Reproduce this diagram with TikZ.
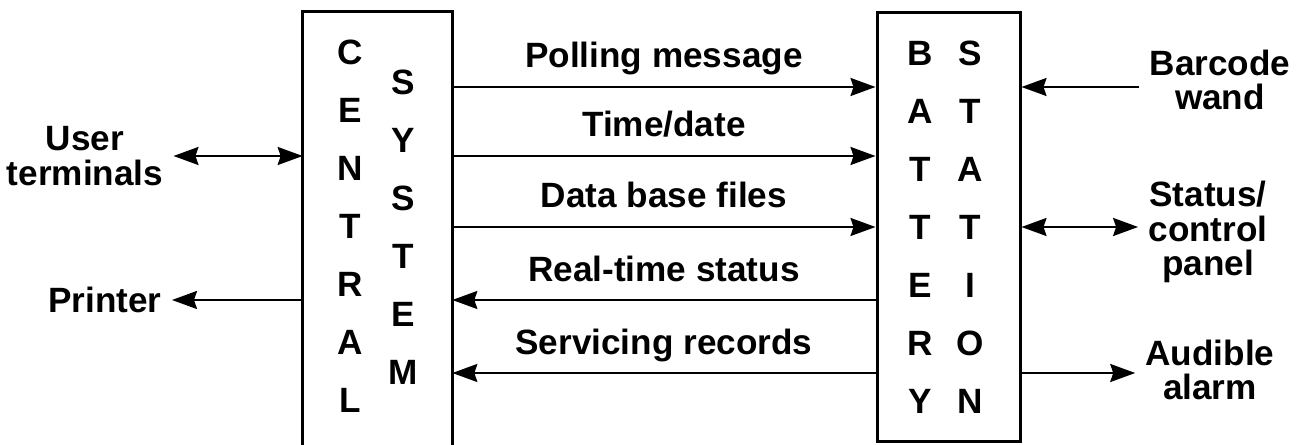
\documentclass[tikz,border=0pt]{standalone}
\usepackage{fontspec}
\setmainfont{Liberation Sans}
\usetikzlibrary{arrows.meta}

\tikzset{
    tip/.tip={Stealth[length=0.5cm, width=0.36cm, inset=0.06cm]},
    flow/.style={line width=0.045cm, -tip},
    flowboth/.style={line width=0.045cm, tip-tip},
    boxline/.style={line width=0.06cm},
    msg/.style={midway, anchor=base, yshift=0.38cm, inner sep=0pt},
    letters/.style={align=center, inner sep=0pt, font=\bfseries\fontsize{20}{33}\selectfont},
    side/.style={align=center, inner sep=0.2cm, font=\bfseries\fontsize{20}{19.5}\selectfont}
}

\begin{document}
\begin{tikzpicture}[x=0.02cm, y=-0.02cm, font=\bfseries\fontsize{20}{24}\selectfont]
        \useasboundingbox (0,0) rectangle (1297,445);

        % 两个方框
        \node[inner sep=0pt, minimum width=2.98cm, minimum height=8.66cm] (central) at (377.5,228.5) {};
        \draw[boxline] (central.south west) |- (central.north east) -- (central.south east);
        \node[draw, boxline, inner sep=0pt, minimum width=2.86cm, minimum height=8.6cm] (battery) at (948.5,227) {};

        % 竖排文字
        \node[letters] (centralword) at (350,226) {C\\E\\N\\T\\R\\A\\L};
        \node[letters] (systemword) at (403,227.5) {S\\Y\\S\\T\\E\\M};
        \node[letters] (batteryword) at (920,227.5) {B\\A\\T\\T\\E\\R\\Y};
        \node[letters] (stationword) at (970,227.5) {S\\T\\A\\T\\I\\O\\N};

        % 各行高度
        \coordinate (r1) at (0,87);
        \coordinate (r2) at (0,156);
        \coordinate (r3) at (0,227);
        \coordinate (r4) at (0,300);
        \coordinate (r5) at (0,373);

        % 中间的消息
        \draw[flow] (central.east |- r1) -- (battery.west |- r1) node[msg] {Polling message};
        \draw[flow] (central.east |- r2) -- (battery.west |- r2) node[msg] {Time/date};
        \draw[flow] (central.east |- r3) -- (battery.west |- r3) node[msg] {Data base files};
        \draw[flow] (battery.west |- r4) -- (central.east |- r4) node[msg] {Real-time status};
        \draw[flow] (battery.west |- r5) -- (central.east |- r5) node[msg] {Servicing records};

        % 左边
        \node[side] (users) at (85,156) {User\\terminals};
        \node[side] (printer) at (105,300) {Printer};
        \draw[flowboth] (users.east |- r2) -- (central.west |- r2);
        \draw[flow] (central.west |- r4) -- (printer.east |- r4);

        % 右边
        \node[side] (barcode) at (1220,80) {Barcode\\wand};
        \node[side] (panel) at (1208,232) {Status/\\control\\panel};
        \node[side] (alarm) at (1210,370) {Audible\\alarm};
        \draw[flow] (barcode.west |- r1) -- (battery.east |- r1);
        \draw[flowboth] (battery.east |- r3) -- (panel.west |- r3);
        \draw[flow] (battery.east |- r5) -- (alarm.west |- r5);
    \end{tikzpicture}
\end{document}
